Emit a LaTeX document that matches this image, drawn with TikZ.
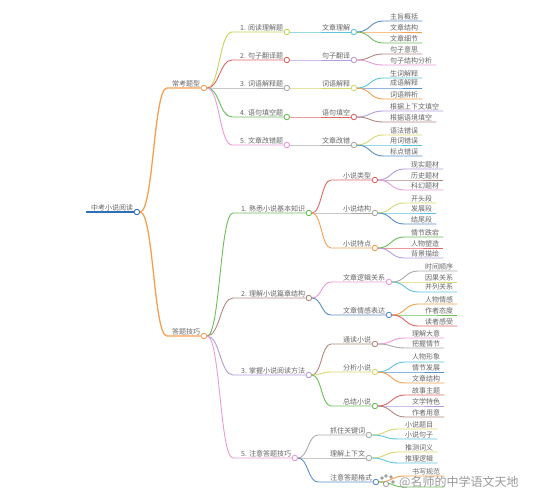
\documentclass[tikz,border=0pt]{standalone}
\usepackage{fontspec}
\newfontfamily\cjk{Noto Sans CJK SC}
\usetikzlibrary{calc}
\definecolor{cOrange}{HTML}{F5A04E}
\definecolor{cRoot}{HTML}{2F6FB5}
\definecolor{cYG}{HTML}{C9D65A}
\definecolor{cRed}{HTML}{E06666}
\definecolor{cGray}{HTML}{AAAAAA}
\definecolor{cGreen}{HTML}{6DBE5B}
\definecolor{cPink}{HTML}{E89BD8}
\definecolor{cCyan}{HTML}{5BC5DB}
\definecolor{cPurple}{HTML}{B39DDB}
\definecolor{cBrown}{HTML}{B08A80}
\definecolor{cBlue}{HTML}{5B8FC8}
\definecolor{cYellow}{HTML}{D8D870}
\definecolor{txtgray}{HTML}{666666}
\tikzset{
  lbl/.style={font=\cjk\fontsize{7}{8}\selectfont, text=txtgray, inner xsep=0pt, inner ysep=1.2pt, anchor=south west},
  dot/.style={circle, inner sep=0pt, minimum size=5.5pt, fill=white, line width=0.9pt},
  wmk/.style={font=\cjk\fontsize{12}{12}\selectfont, text=black!40, inner sep=0pt, anchor=west},
}
\def\mmlw{0.9pt}
% name, color, x, y, text, parent, gap
\newcommand\mmbranch[7]{%
  \node[lbl] (#1) at (#3,#4) {#5};
  \coordinate (#1-s) at (#3-#7,#4);
  \node[dot,draw=#2] (#1-c) at ([xshift=3.5pt]#1.south east) {};
  \coordinate (#1-m) at ($(#6-c.east)!0.5!(#1-s)$);
  \draw[#2,line width=\mmlw] (#6-c.east) .. controls (#1-m |- #6-c.east) and (#1-m |- #1-s) .. (#1-s) -- (#1-c.west);
}
\newcommand\mmleaf[7]{%
  \node[lbl] (#1) at (#3,#4) {#5};
  \coordinate (#1-s) at (#3-#7,#4);
  \coordinate (#1-e) at ([xshift=4pt]#1.south east);
  \coordinate (#1-m) at ($(#6-c.east)!0.5!(#1-s)$);
  \draw[#2,line width=\mmlw] (#6-c.east) .. controls (#1-m |- #6-c.east) and (#1-m |- #1-s) .. (#1-s) -- (#1-e);
}
\begin{document}
\begin{tikzpicture}[x=1pt,y=-1pt]
\useasboundingbox[fill=white] (0,0) rectangle (544,500);
% root
\node[lbl] (root) at (91,212) {中考小说阅读};
\coordinate (root-s) at (86,212);
\node[dot,draw=cRoot] (root-c) at ([xshift=3.5pt]root.south east) {};
\draw[cRoot,line width=1.8pt] (root-s) -- (root-c.west);
% level 1
\def\mmlw{1.3pt}
\mmbranch{A}{cOrange}{172}{88}{常考题型}{root}{5}
\mmbranch{B}{cOrange}{172}{336}{答题技巧}{root}{5}
\def\mmlw{0.9pt}
% upper level 2
\mmbranch{q1}{cYG}{240}{32}{1. 阅读理解题}{A}{8}
\mmbranch{q2}{cRed}{240}{60}{2. 句子翻译题}{A}{8}
\mmbranch{q3}{cGray}{240}{88}{3. 词语解释题}{A}{8}
\mmbranch{q4}{cGreen}{240}{117}{4. 语句填空题}{A}{8}
\mmbranch{q5}{cPink}{240}{145}{5. 文章改错题}{A}{8}
% upper level 3
\mmbranch{q1a}{cCyan}{322}{32}{文章理解}{q1}{30}
\mmbranch{q2a}{cPurple}{322}{60}{句子翻译}{q2}{30}
\mmbranch{q3a}{cYellow}{322}{88}{词语解释}{q3}{30}
\mmbranch{q4a}{cRed}{322}{117}{语句填空}{q4}{30}
\mmbranch{q5a}{cGray}{322}{145}{文章改错}{q5}{30}
% upper leaves
\mmleaf{q1a1}{cBlue}{390}{21}{主旨概括}{q1a}{7}
\mmleaf{q1a2}{cOrange}{390}{32}{文章结构}{q1a}{7}
\mmleaf{q1a3}{cGreen}{390}{43}{文章细节}{q1a}{7}
\mmleaf{q2a1}{cBrown}{390}{54}{句子意思}{q2a}{7}
\mmleaf{q2a2}{cPink}{390}{65}{句子结构分析}{q2a}{7}
\mmleaf{q3a1}{cCyan}{390}{78}{生词解释}{q3a}{7}
\mmleaf{q3a2}{cBlue}{390}{88}{成语解释}{q3a}{7}
\mmleaf{q3a3}{cOrange}{390}{99}{词语辨析}{q3a}{7}
\mmleaf{q4a1}{cPurple}{390}{111}{根据上下文填空}{q4a}{7}
\mmleaf{q4a2}{cBrown}{390}{122}{根据语境填空}{q4a}{7}
\mmleaf{q5a1}{cYellow}{390}{135}{语法错误}{q5a}{7}
\mmleaf{q5a2}{cCyan}{390}{145}{用词错误}{q5a}{7}
\mmleaf{q5a3}{cBlue}{390}{156}{标点错误}{q5a}{7}
% lower level 2
\mmbranch{b1}{cGreen}{241}{213}{1. 熟悉小说基本知识}{B}{8}
\mmbranch{b2}{cBrown}{241}{298}{2. 理解小说篇章结构}{B}{8}
\mmbranch{b3}{cPurple}{241}{375}{3. 掌握小说阅读方法}{B}{8}
\mmbranch{b5}{cPink}{241}{458}{5. 注意答题技巧}{B}{8}
% lower level 3
\mmbranch{b1a}{cRed}{343}{180}{小说类型}{b1}{12}
\mmbranch{b1b}{cGray}{343}{213}{小说结构}{b1}{12}
\mmbranch{b1c}{cOrange}{343}{248}{小说特点}{b1}{12}
\mmbranch{b2a}{cPink}{343}{282}{文章逻辑关系}{b2}{12}
\mmbranch{b2b}{cBlue}{343}{315}{文章情感表达}{b2}{12}
\mmbranch{b3a}{cBrown}{343}{344}{通读小说}{b3}{12}
\mmbranch{b3b}{cYellow}{343}{372}{分析小说}{b3}{12}
\mmbranch{b3c}{cGreen}{343}{406}{总结小说}{b3}{12}
\mmbranch{b5a}{cGray}{330}{435}{抓住关键词}{b5}{12}
\mmbranch{b5b}{cGray}{330}{458}{理解上下文}{b5}{12}
\mmbranch{b5c}{cBlue}{330}{482}{注意答题格式}{b5}{12}
% lower leaves
\mmleaf{b1a1}{cPurple}{411}{169}{现实题材}{b1a}{7}
\mmleaf{b1a2}{cBrown}{411}{180}{历史题材}{b1a}{7}
\mmleaf{b1a3}{cPink}{411}{190}{科幻题材}{b1a}{7}
\mmleaf{b1b1}{cYellow}{411}{203}{开头段}{b1b}{7}
\mmleaf{b1b2}{cCyan}{411}{213}{发展段}{b1b}{7}
\mmleaf{b1b3}{cBlue}{411}{224}{结尾段}{b1b}{7}
\mmleaf{b1c1}{cGreen}{411}{237}{情节跌宕}{b1c}{7}
\mmleaf{b1c2}{cRed}{411}{248}{人物塑造}{b1c}{7}
\mmleaf{b1c3}{cPurple}{411}{258}{背景描绘}{b1c}{7}
\mmleaf{b2a1}{cGray}{425}{271}{时间顺序}{b2a}{7}
\mmleaf{b2a2}{cYellow}{425}{282}{因果关系}{b2a}{7}
\mmleaf{b2a3}{cCyan}{425}{292}{并列关系}{b2a}{7}
\mmleaf{b2b1}{cOrange}{425}{304}{人物情感}{b2b}{7}
\mmleaf{b2b2}{cGreen}{425}{315}{作者态度}{b2b}{7}
\mmleaf{b2b3}{cRed}{425}{326}{读者感受}{b2b}{7}
\mmleaf{b3a1}{cPink}{412}{338}{理解大意}{b3a}{7}
\mmleaf{b3a2}{cGray}{412}{348}{把握情节}{b3a}{7}
\mmleaf{b3b1}{cCyan}{412}{362}{人物形象}{b3b}{7}
\mmleaf{b3b2}{cBlue}{412}{372}{情节发展}{b3b}{7}
\mmleaf{b3b3}{cOrange}{412}{383}{文章结构}{b3b}{7}
\mmleaf{b3c1}{cRed}{412}{395}{故事主题}{b3c}{7}
\mmleaf{b3c2}{cPurple}{412}{406}{文学特色}{b3c}{7}
\mmleaf{b3c3}{cBrown}{412}{417}{作者用意}{b3c}{7}
\mmleaf{b5a1}{cYellow}{405}{429}{小说题目}{b5a}{7}
\mmleaf{b5a2}{cCyan}{405}{439}{小说句子}{b5a}{7}
\mmleaf{b5b1}{cYellow}{405}{452}{推测词义}{b5b}{7}
\mmleaf{b5b2}{cCyan}{405}{463}{推理逻辑}{b5b}{7}
\mmleaf{b5c1}{cOrange}{412}{476}{书写规范}{b5c}{7}
\mmleaf{b5c2}{cGreen}{412}{487}{\phantom{书写规范}}{b5c}{7}
% watermark
\foreach \px/\py/\r in {386/484/2.6, 382/478/1.3, 386/476/1.3, 391/477/1.3, 393/482/1.3}
  \draw[black!40, line width=0.8pt, fill=white] (\px,\py) circle (\r pt);
\node[wmk] (wm) at (399,482) {@名师的中学语文天地};
\end{tikzpicture}
\end{document}
